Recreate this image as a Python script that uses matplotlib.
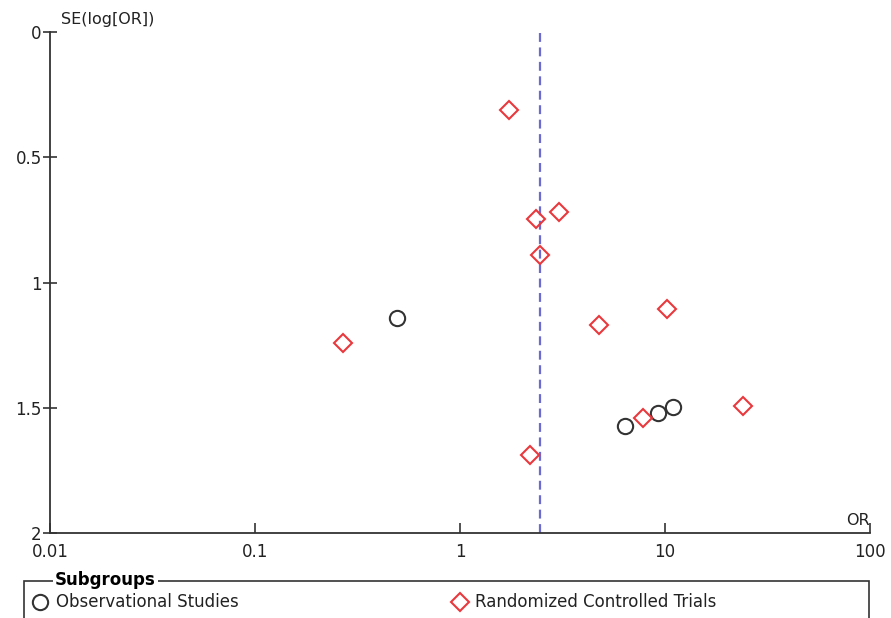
import matplotlib
matplotlib.use("Agg")
import matplotlib.pyplot as plt
from matplotlib.patches import Rectangle
from matplotlib.lines import Line2D
from matplotlib.ticker import NullLocator, FixedLocator, FixedFormatter

# funnel plot data
rct_or = [1.73, 3.04, 2.35, 2.46, 0.268, 4.76, 10.2, 24.0, 7.81, 2.19]
rct_se = [0.311, 0.719, 0.747, 0.890, 1.241, 1.170, 1.106, 1.493, 1.541, 1.689]
obs_or = [0.493, 6.38, 9.25, 10.9]
obs_se = [1.142, 1.573, 1.521, 1.497]
pooled_or = 2.46

x_ticks = [0.01, 0.1, 1, 10, 100]
x_labels = ["0.01", "0.1", "1", "10", "100"]
y_ticks = [0, 0.5, 1, 1.5, 2]
y_labels = ["0", "0.5", "1", "1.5", "2"]

red = "#e8383d"
dark = "#333333"
blue = "#6a6ad0"

plt.rcParams["font.family"] = "DejaVu Sans"
plt.rcParams["font.size"] = 12

fig = plt.figure(figsize=(8.91, 6.18), dpi=100)
ax = fig.add_axes([50 / 891, 1 - 533 / 618, 820 / 891, 501 / 618])

ax.axvline(pooled_or, color=blue, lw=1.6, ls=(0, (4, 2.5)), zorder=1)
ax.plot(obs_or, obs_se, ls="none", marker="o", ms=11, mfc="none",
        mec=dark, mew=1.5, zorder=3, clip_on=False)
ax.plot(rct_or, rct_se, ls="none", marker="D", ms=9.5, mfc="none",
        mec=red, mew=1.5, zorder=3, clip_on=False)

ax.set_xscale("log")
ax.set_xlim(0.01, 100)
ax.set_ylim(2, 0)
ax.xaxis.set_major_locator(FixedLocator(x_ticks))
ax.xaxis.set_major_formatter(FixedFormatter(x_labels))
ax.xaxis.set_minor_locator(NullLocator())
ax.set_yticks(y_ticks)
ax.set_yticklabels(y_labels)

for s in ["top", "right"]:
    ax.spines[s].set_visible(False)
for s in ["left", "bottom"]:
    ax.spines[s].set_color(dark)
    ax.spines[s].set_linewidth(1.3)

ax.tick_params(axis="x", direction="in", length=7, width=1.2, color=dark,
               labelsize=12, pad=7, labelcolor="#222222")
ax.tick_params(axis="y", direction="inout", length=10, width=1.2, color=dark,
               labelsize=12, pad=1, labelcolor="#222222")
# lift the y labels a touch so "2" sits above the axis like the original
for lab in ax.get_yticklabels():
    lab.set_verticalalignment("center_baseline")

ax.text(0.0113, -0.02, "SE(log[OR])", fontsize=11.5, ha="left", va="bottom",
        color="#222222")
ax.text(100, 1.98, "OR", fontsize=11.5, ha="right", va="bottom",
        color="#222222")

# legend box, cut off by the bottom of the figure like in the original
fig.add_artist(Rectangle((24 / 891, -0.05), 845 / 891, 0.05 + 37 / 618,
                         transform=fig.transFigure, fill=False,
                         ec=dark, lw=1.2, zorder=1))
fig.text(55 / 891, 1 - 580 / 618, "Subgroups", fontsize=12,
         fontweight="bold", va="center", ha="left", zorder=5,
         bbox=dict(fc="white", ec="none", pad=1.5))
fig.add_artist(Line2D([40 / 891], [1 - 602 / 618], transform=fig.transFigure,
                      marker="o", ms=11, mfc="none", mec=dark, mew=1.5))
fig.text(56 / 891, 1 - 602 / 618, "Observational Studies", fontsize=12,
         va="center", ha="left", color="#222222")
fig.add_artist(Line2D([460 / 891], [1 - 602 / 618], transform=fig.transFigure,
                      marker="D", ms=9.5, mfc="none", mec=red, mew=1.5))
fig.text(475 / 891, 1 - 602 / 618, "Randomized Controlled Trials",
         fontsize=12, va="center", ha="left", color="#222222")

fig.savefig("out.png", dpi=100)
